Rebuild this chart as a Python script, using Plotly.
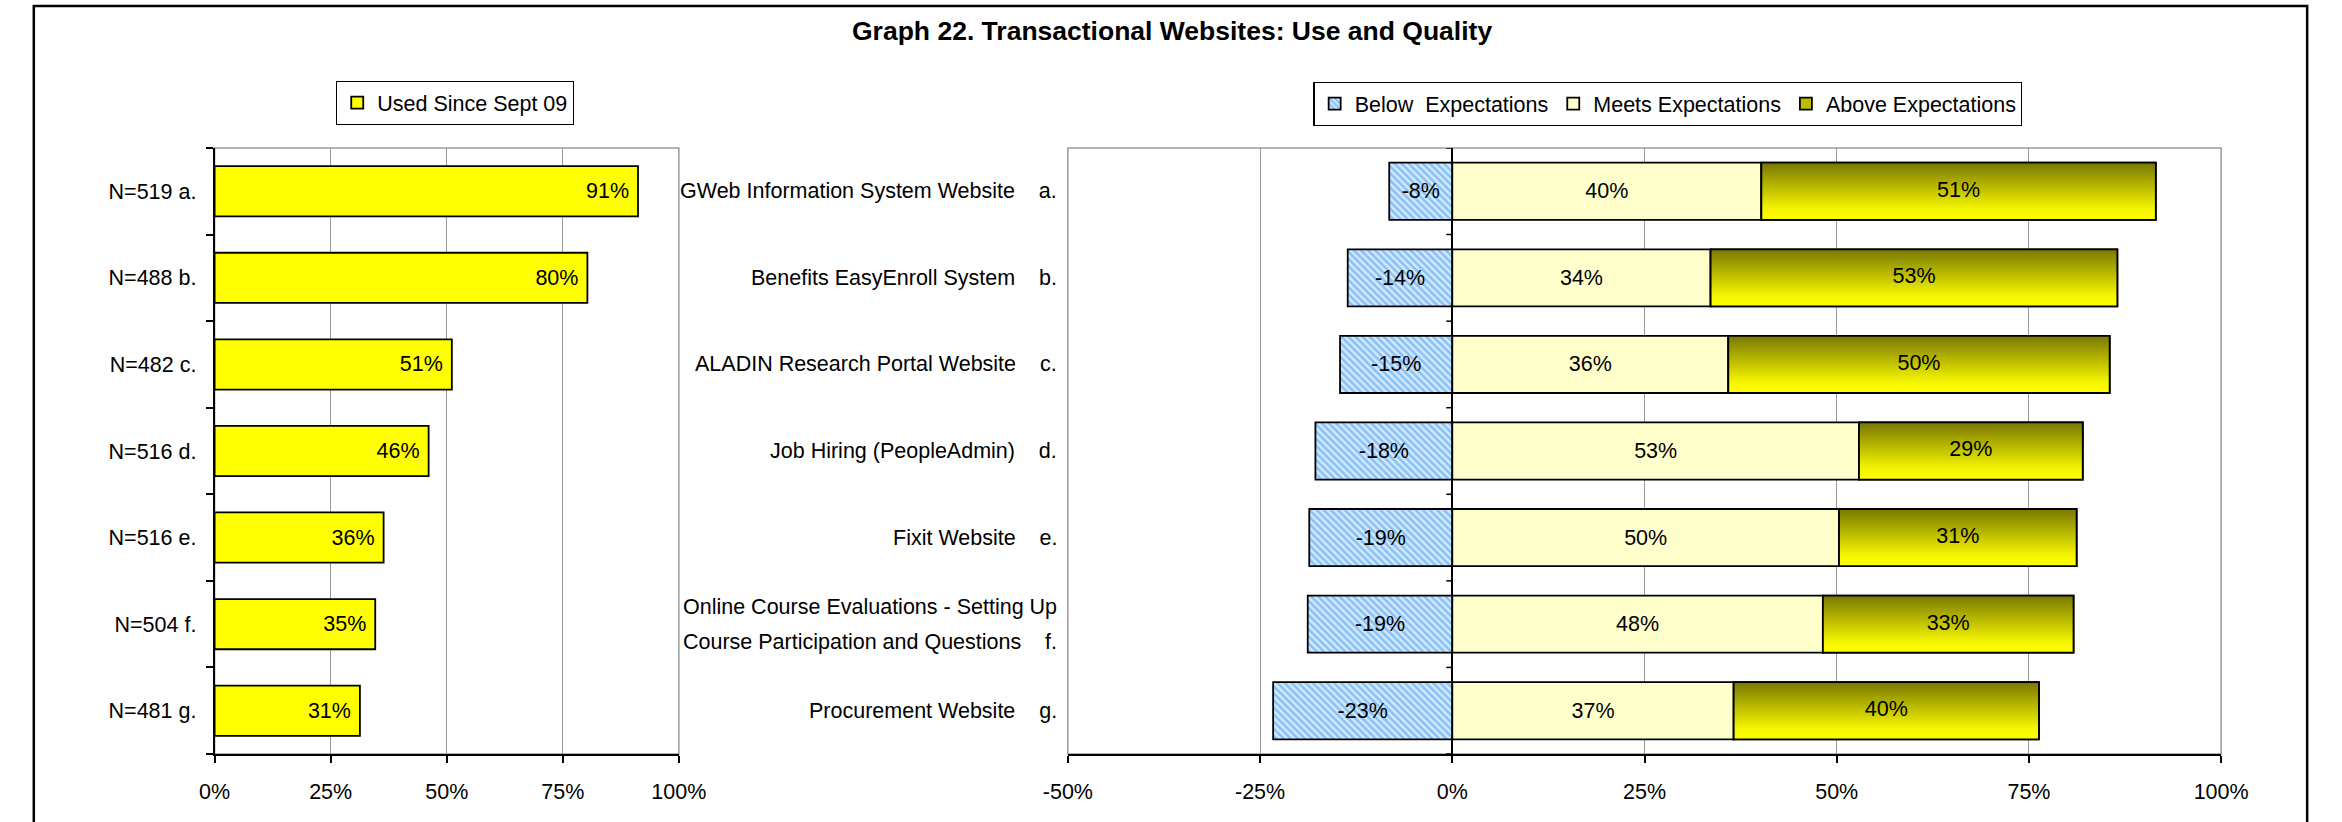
import plotly.graph_objects as go

# ---------------- data ----------------
letters = ["a.", "b.", "c.", "d.", "e.", "f.", "g."]
sample_sizes = [519, 488, 482, 516, 516, 504, 481]
used_since_sept09 = [91.2, 80.3, 51.1, 46.1, 36.4, 34.6, 31.3]

websites = [
    "GWeb Information System Website",
    "Benefits EasyEnroll System",
    "ALADIN Research Portal Website",
    "Job Hiring (PeopleAdmin)",
    "Fixit Website",
    "Online Course Evaluations - Setting Up<br>Course Participation and Questions",
    "Procurement Website",
]
below_expect = [-8.2, -13.6, -14.6, -17.8, -18.6, -18.8, -23.3]
meets_expect = [40.2, 33.6, 35.9, 52.9, 50.3, 48.2, 36.6]
above_expect = [51.3, 52.9, 49.6, 29.1, 30.9, 32.6, 39.7]

left_ticks = [0, 25, 50, 75, 100]
right_ticks = [-50, -25, 0, 25, 50, 75, 100]

title = "Graph 22. Transactional Websites: Use and Quality"
legend_left = "Used Since Sept 09"
legend_right = ["Below\u00a0\u00a0Expectations", "Meets Expectations", "Above Expectations"]

# ---------------- layout helpers ----------------
W, H = 2342, 822
FONT = "Arial, 'Liberation Sans', Helvetica, sans-serif"
FS = 21.5


def px_x(p):
    return p / W


def px_y(p):
    return 1 - p / H


pos = list(range(len(letters)))
boundaries = [p - 0.5 for p in pos] + [pos[-1] + 0.5]
left_labels = [f"N={n} {l}" for n, l in zip(sample_sizes, letters)]

LEFT_DOM = [px_x(194), px_x(669)]
RIGHT_DOM = [px_x(1067), px_x(2247)]
Y_DOM = [px_y(754), px_y(148)]
W_LEFT = 0.58
W_RIGHT = 0.66

fig = go.Figure()

# left chart
fig.add_trace(go.Bar(
    y=pos, x=used_since_sept09, orientation="h", width=W_LEFT,
    name=legend_left,
    marker=dict(color="#FFFF00", line=dict(color="black", width=1.8)),
    texttemplate="%{x:.0f}%\u00a0", textposition="inside", insidetextanchor="end",
    textfont=dict(color="black", size=FS, family=FONT),
    xaxis="x", yaxis="y", legend="legend", hoverinfo="skip",
))

# right chart
fig.add_trace(go.Bar(
    y=pos, x=below_expect, orientation="h", width=W_RIGHT,
    name=legend_right[0],
    marker=dict(color="#8cc6ff", line=dict(color="black", width=1.8),
                pattern=dict(shape="\\", fgcolor="#3f98ec", bgcolor="#d2e9ff",
                             size=5, solidity=0.5)),
    texttemplate="%{x:.0f}%", textposition="inside", insidetextanchor="middle",
    textfont=dict(color="black", size=FS, family=FONT),
    xaxis="x2", yaxis="y2", legend="legend2", hoverinfo="skip",
))
fig.add_trace(go.Bar(
    y=pos, x=meets_expect, orientation="h", width=W_RIGHT,
    name=legend_right[1],
    marker=dict(color="#FFFFCC", line=dict(color="black", width=1.8)),
    texttemplate="%{x:.0f}%", textposition="inside", insidetextanchor="middle",
    textfont=dict(color="black", size=FS, family=FONT),
    xaxis="x2", yaxis="y2", legend="legend2", hoverinfo="skip",
))
fig.add_trace(go.Bar(
    y=pos, x=above_expect, orientation="h", width=W_RIGHT,
    name=legend_right[2],
    marker=dict(color="#BDBD00", line=dict(color="black", width=1.8)),
    xaxis="x2", yaxis="y2", legend="legend2", hoverinfo="skip",
))

# gradient overlay for "Above Expectations" bars (olive top -> yellow bottom)
for p, m, a in zip(pos, meets_expect, above_expect):
    top, bot = p - W_RIGHT / 2, p + W_RIGHT / 2
    fig.add_trace(go.Scatter(
        x=[m, m + a, m + a, m, m], y=[top, top, bot, bot, top],
        mode="lines", fill="toself",
        line=dict(color="black", width=1.8),
        fillgradient=dict(type="vertical", start=top, stop=bot,
                          colorscale=[[0, "#787800"], [0.8, "#F4F400"], [1, "#FFFF00"]]),
        xaxis="x2", yaxis="y2", showlegend=False, hoverinfo="skip",
    ))
fig.add_trace(go.Scatter(
    x=[m + a / 2 for m, a in zip(meets_expect, above_expect)], y=pos,
    mode="text", text=[f"{a:.0f}%" for a in above_expect],
    textfont=dict(color="black", size=FS, family=FONT),
    xaxis="x2", yaxis="y2", showlegend=False, hoverinfo="skip",
))

# right chart category labels
annotations = []
for p, name, letter in zip(pos, websites, letters):
    label = f"{name}\u00a0\u00a0\u00a0\u00a0{letter}"
    size = FS
    if "<br>" in label:
        lines = label.split("<br>")
        label = "<br>".join(f"<span style='font-size:{FS}px'>{ln}</span>" for ln in lines)
        size = 27
    annotations.append(dict(
        text=label, xref="paper", x=px_x(1058), xanchor="right", align="left",
        yref="y2", y=p, yanchor="middle", showarrow=False,
        font=dict(size=size, family=FONT, color="black"),
    ))

annotations.append(dict(
    text=f"<b>{title}</b>", xref="paper", yref="paper", x=px_x(1174), y=px_y(31),
    xanchor="center", yanchor="middle", showarrow=False,
    font=dict(size=26.5, family=FONT, color="black"),
))

shapes = [
    # outer frame
    dict(type="rect", xref="paper", yref="paper", x0=px_x(9), x1=px_x(2335),
         y0=px_y(840), y1=px_y(6), line=dict(color="black", width=2.5)),
    # plot area borders
    dict(type="rect", xref="x domain", yref="y domain", x0=0, x1=1, y0=0, y1=1,
         line=dict(color="#9a9a9a", width=1.5), layer="below"),
    dict(type="rect", xref="x2 domain", yref="y2 domain", x0=0, x1=1, y0=0, y1=1,
         line=dict(color="#9a9a9a", width=1.5), layer="below"),
]
# tick marks on the zero line of the right chart
for b in boundaries:
    shapes.append(dict(type="line", xref="x2", yref="y2", xsizemode="pixel", xanchor=0,
                       x0=-6, x1=0, y0=b, y1=b, line=dict(color="black", width=1.5)))

axis_font = dict(size=FS, family=FONT, color="black")

fig.update_layout(
    width=W, height=H,
    margin=dict(l=0, r=0, t=0, b=0),
    paper_bgcolor="white", plot_bgcolor="white",
    barmode="relative",
    font=dict(family=FONT, size=FS, color="black"),
    showlegend=True,
    xaxis=dict(domain=LEFT_DOM, range=[0, 100], tickmode="array", tickvals=left_ticks,
               ticktext=[f"{v}%" for v in left_ticks],
               ticks="outside", ticklen=7, tickwidth=1.5, tickcolor="black",
               showline=True, linecolor="black", linewidth=1.8,
               showgrid=True, gridcolor="#9a9a9a", gridwidth=1.2, zeroline=False,
               tickfont=axis_font, anchor="y", ticklabelstandoff=10, fixedrange=True),
    yaxis=dict(domain=Y_DOM, range=[len(pos) - 0.5, -0.5], tickmode="array", tickvals=pos,
               ticktext=left_labels, ticks="", showline=True, linecolor="black", linewidth=1.8,
               minor=dict(tickmode="array", tickvals=boundaries, ticks="outside", ticklen=7,
                          tickwidth=1.5, tickcolor="black", showgrid=False),
               showgrid=False, zeroline=False, tickfont=axis_font, anchor="x",
               ticklabelstandoff=12, fixedrange=True),
    xaxis2=dict(domain=RIGHT_DOM, range=[-50, 100], tickmode="array", tickvals=right_ticks,
                ticktext=[f"{v}%" for v in right_ticks],
                ticks="outside", ticklen=7, tickwidth=1.5, tickcolor="black",
                showline=True, linecolor="black", linewidth=1.8,
                showgrid=True, gridcolor="#9a9a9a", gridwidth=1.2,
                zeroline=True, zerolinecolor="black", zerolinewidth=1.8,
                tickfont=axis_font, anchor="y2", ticklabelstandoff=10, fixedrange=True),
    yaxis2=dict(domain=Y_DOM, range=[len(pos) - 0.5, -0.5], showticklabels=False, ticks="",
                showline=False, showgrid=False, zeroline=False, anchor="x2", fixedrange=True),
    legend=dict(x=px_x(440), xanchor="center", y=px_y(81), yanchor="top",
                orientation="h", bordercolor="black", borderwidth=1.2, bgcolor="white",
                font=dict(size=FS, family=FONT, color="black")),
    legend2=dict(x=px_x(1681), xanchor="center", y=px_y(82), yanchor="top",
                 orientation="h", bordercolor="black", borderwidth=1.2, bgcolor="white",
                 traceorder="normal",
                 font=dict(size=FS, family=FONT, color="black")),
    annotations=annotations,
    shapes=shapes,
)

fig.write_html("out.html", config={"displayModeBar": False},
               post_script="document.body.style.margin='0';document.body.style.overflow='hidden';")
